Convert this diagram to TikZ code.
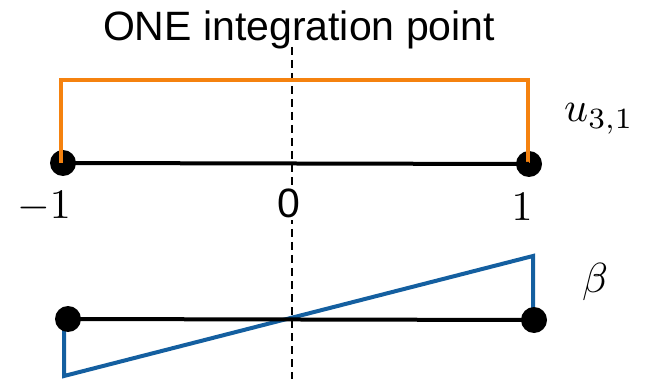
\documentclass[tikz,border=0pt]{standalone}
\usepackage{graphicx}
\usepackage{fontspec}
\newfontfamily\arialfont{Liberation Sans}
\definecolor{myorange}{RGB}{245,130,15}
\definecolor{myblue}{RGB}{20,95,160}
\newcommand{\bigmath}[1]{\scalebox{4.2}{$#1$}}
\tikzset{
  axisline/.style={line width=4pt, black},
  orangeline/.style={line width=4pt, myorange, line join=miter},
  blueline/.style={line width=4pt, myblue, line join=miter},
  enddot/.style={circle, fill=black, minimum size=26pt, inner sep=0pt},
  lbl/.style={inner sep=0pt},
  sanslbl/.style={inner sep=0pt, font=\arialfont\fontsize{41}{41}\selectfont},
  midline/.style={line width=2.4pt, black, dash pattern=on 8pt off 5pt}
}
\begin{document}
\begin{tikzpicture}[x=1pt,y=-1pt]
\useasboundingbox (0,0) rectangle (650,379);
% title
\node[sanslbl, anchor=base] (title) at (299,41) {ONE integration point};
% dashed line
\coordinate (dtop) at (292,47);
\coordinate (dbot) at (292,379);
\draw[midline] (dtop) -- (dbot);
% top axis
\node[enddot] (a1) at (63,163) {};
\node[enddot] (a2) at (529,164) {};
\coordinate (o1) at (61,163);
\coordinate (o2) at (61,80);
\coordinate (o3) at (528,80);
\coordinate (o4) at (528,163);
\draw[orangeline] (o1) -- (o2) -- (o3) -- (o4);
\draw[axisline] (a1.center) -- (a2.center);
\node[lbl] (lm1) at (44,207) {\bigmath{-1}};
\node[sanslbl, fill=white, inner sep=2pt] (l0) at (289,203) {0};
\node[lbl] (lp1) at (522,207) {\bigmath{1}};
\node[lbl, anchor=base west] (u) at (564,122) {\bigmath{u_{3,1}}};
% bottom axis
\coordinate (b1) at (64,319);
\coordinate (b2) at (64,376);
\coordinate (b3) at (533,256);
\coordinate (b4) at (533,319);
\draw[blueline] (b1) -- (b2) -- (b3) -- (b4);
\node[enddot] (c1) at (68,319) {};
\node[enddot] (c2) at (534,320) {};
\draw[axisline] (c1.center) -- (c2.center);
\node[lbl] (beta) at (595,282) {\bigmath{\beta}};
\end{tikzpicture}
\end{document}
